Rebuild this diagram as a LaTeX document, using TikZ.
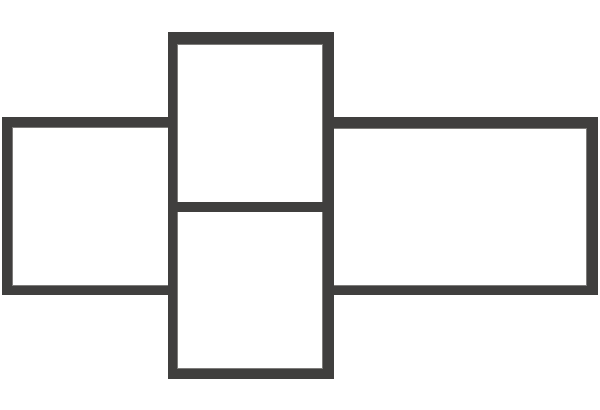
\documentclass[tikz,border=0pt]{standalone}
\usepackage{xcolor}
\usepackage{tikz}
\definecolor{frame}{RGB}{64, 63, 62}
\definecolor{bevel}{RGB}{125, 124, 122}

\begin{document}
\begin{tikzpicture}[x=0.75pt,y=0.75pt,yscale=-1,xscale=1]
\tikzset{bar/.style={draw=frame, fill=frame, line width=0.4pt}, edge/.style={draw=bevel, line width=0.6pt}}
\useasboundingbox (0,0) rectangle (600,410);

%Shape: Rectangle [id:left box]
\draw [bar] (2,117) rectangle (168,127) ;
\draw [bar] (2,286) rectangle (168,294) ;
\draw [bar] (2,117) rectangle (12,294) ;
\draw [edge] (168,127.5) -- (12.5,127.5) -- (12.5,285.5) -- (168,285.5) ;

%Shape: Rectangle [id:right box]
\draw [bar] (333,117) rectangle (597,128) ;
\draw [bar] (333,286) rectangle (597,294) ;
\draw [bar] (587,117) rectangle (597,294) ;
\draw [edge] (333,128.5) -- (586.5,128.5) -- (586.5,285.5) -- (333,285.5) ;

%Shape: Rectangle [id:center column]
\draw [bar] (168,32) rectangle (333,44) ;
\draw [bar] (168,369) rectangle (333,378) ;
\draw [bar] (168,32) rectangle (177,378) ;
\draw [bar] (323,32) rectangle (333,378) ;
\draw [bar] (177,202) rectangle (323,211) ;
\draw [edge] (177.5,201.5) -- (177.5,44.5) -- (322.5,44.5) -- (322.5,201.5) ;
\draw [edge] (177.5,211.5) -- (177.5,368.5) -- (322.5,368.5) -- (322.5,211.5) ;

\end{tikzpicture}
\end{document}
